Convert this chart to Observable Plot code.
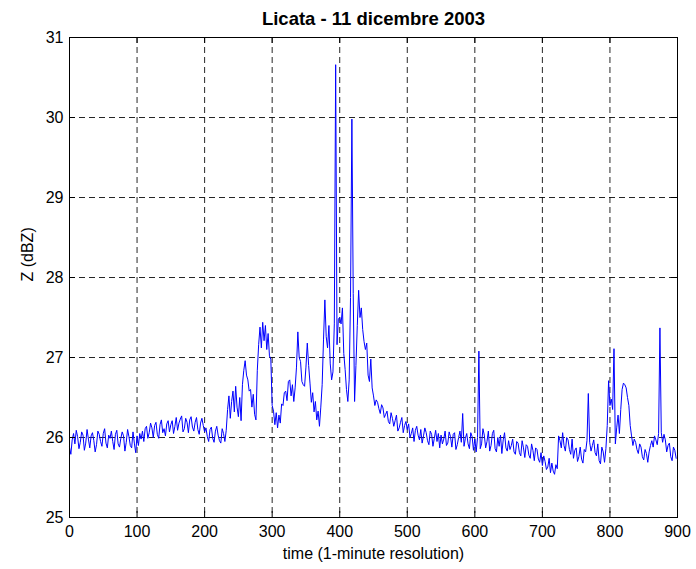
<!DOCTYPE html>
<html>
<head>
<meta charset="utf-8">
<script src="https://cdn.jsdelivr.net/npm/d3@7"></script>
<script src="https://cdn.jsdelivr.net/npm/@observablehq/plot@0.6"></script>
<style>
  html, body { margin: 0; padding: 0; background: #fff; }
</style>
</head>
<body>
<div id="chart"></div>
<script>
// Radar reflectivity over Licata, 11 December 2003, sampled every 2 minutes
const title = "Licata - 11 dicembre 2003";
const xLabel = "time (1-minute resolution)";
const yLabel = "Z (dBZ)";
const xTicks = [0, 100, 200, 300, 400, 500, 600, 700, 800, 900];
const yTicks = [25, 26, 27, 28, 29, 30, 31];
const step = 2; // minutes between consecutive values

// Z (dBZ), one value every `step` minutes starting at minute 0
const zdBZ = [
  25.88, 25.79, 25.97, 26.05, 25.92, 26.09, 26.01, 25.86, 25.94, 26.07, 26.03, 25.84, 25.93, 26.10, 25.98, 25.87, 26.02, 26.06, 25.96, 25.82, 25.91, 26.08, 26.04, 25.95, 25.89,
  26.05, 26.11, 25.93, 25.87, 26.03, 25.99, 26.08, 25.95, 25.85, 26.04, 26.09, 25.92, 25.88, 25.99, 26.07, 26.02, 25.83, 25.94, 26.10, 26.01, 25.90, 25.87, 26.07, 25.93, 25.81,
  26.02, 25.90, 26.05, 25.98, 26.08, 25.95, 26.11, 26.14, 25.99, 26.06, 26.18, 26.12, 26.00, 26.15, 26.19, 26.04, 25.99, 26.16, 26.22, 26.06, 26.11, 26.02, 26.17, 26.21, 26.07,
  26.16, 26.21, 26.05, 26.14, 26.25, 26.09, 26.18, 26.23, 26.27, 26.07, 26.11, 26.24, 26.19, 26.06, 26.22, 26.26, 26.13, 26.08, 26.19, 26.25, 26.10, 26.04, 26.18, 26.24, 26.15,
  26.07, 26.12, 26.01, 25.95, 26.10, 26.13, 25.99, 25.94, 26.08, 26.14, 26.03, 25.96, 25.93, 26.11, 26.05, 25.95, 26.09, 26.35, 26.52, 26.24, 26.45, 26.58, 26.32, 26.64, 26.38,
  26.26, 26.50, 26.21, 26.66, 26.84, 26.96, 26.78, 26.72, 26.58, 26.60, 26.38, 26.54, 26.29, 26.22, 26.84, 27.16, 27.38, 27.12, 27.44, 27.21, 27.40, 27.10, 27.30, 27.02, 26.98,
  26.40, 26.33, 26.16, 26.31, 26.12, 26.28, 26.18, 26.42, 26.40, 26.56, 26.58, 26.46, 26.70, 26.72, 26.52, 26.66, 26.45, 26.62, 26.88, 27.32, 27.00, 26.95, 26.70, 26.66, 26.64,
  26.88, 27.18, 26.90, 26.68, 26.44, 26.56, 26.32, 26.45, 26.22, 26.33, 26.14, 26.38, 26.66, 27.22, 27.72, 27.26, 27.12, 27.40, 26.92, 26.72, 26.82, 27.42, 30.66, 27.16, 27.48,
  27.50, 27.42, 27.62, 27.05, 26.85, 26.60, 26.45, 26.72, 27.75, 29.98, 27.80, 26.45, 26.90, 27.40, 27.84, 27.50, 27.62, 27.35, 27.20, 27.10, 27.18, 26.78, 26.70, 26.98, 26.62,
  26.52, 26.40, 26.47, 26.44, 26.36, 26.30, 26.41, 26.37, 26.25, 26.29, 26.33, 26.20, 26.17, 26.31, 26.24, 26.14, 26.21, 26.28, 26.08, 26.12, 26.19, 26.25, 26.06, 26.15, 26.20,
  26.10, 26.17, 26.00, 26.05, 26.12, 25.95, 26.09, 26.14, 26.03, 25.97, 26.10, 25.93, 26.02, 26.12, 26.06, 25.96, 25.91, 26.08, 26.04, 25.89, 25.99, 26.09, 25.95, 26.05, 25.87,
  26.03, 25.92, 25.98, 26.08, 25.90, 25.93, 26.07, 26.01, 25.88, 26.04, 26.06, 25.85, 25.91, 26.00, 26.08, 25.94, 26.30, 25.89, 25.99, 26.05, 25.92, 25.86, 26.06, 26.01, 25.84,
  25.98, 25.82, 26.00, 27.08, 25.86, 25.92, 26.11, 26.03, 25.87, 25.95, 26.08, 25.83, 25.90, 26.05, 26.09, 25.86, 25.82, 26.00, 25.89, 26.03, 25.80, 25.97, 26.06, 25.87, 25.83,
  25.96, 25.85, 25.90, 25.98, 25.82, 25.79, 25.95, 25.93, 25.81, 25.77, 25.96, 25.87, 25.75, 25.91, 25.89, 25.78, 25.74, 25.92, 25.84, 25.71, 25.87, 25.85, 25.73, 25.69, 25.81,
  25.65, 25.77, 25.70, 25.60, 25.63, 25.74, 25.56, 25.68, 25.58, 25.54, 25.66, 25.61, 26.02, 25.96, 25.87, 26.06, 25.90, 25.83, 26.00, 25.97, 25.85, 25.79, 25.98, 25.74, 25.84,
  25.87, 25.70, 25.76, 25.88, 25.73, 25.68, 25.85, 25.82, 25.96, 26.55, 25.94, 25.83, 25.90, 25.97, 25.81, 25.77, 25.92, 25.71, 25.67, 25.88, 25.82, 25.69, 25.86, 26.15, 26.71,
  26.40, 26.48, 26.35, 27.11, 25.92, 26.12, 26.28, 26.05, 26.35, 26.60, 26.68, 26.66, 26.62, 26.50, 26.40, 26.15, 26.02, 25.90, 25.98, 25.94, 25.85, 25.80, 25.92, 25.88, 25.76,
  25.72, 25.85, 25.80, 25.69, 25.82, 25.90, 25.96, 25.88, 26.02, 25.97, 25.91, 26.05, 27.37, 26.06, 25.94, 26.04, 25.97, 25.82, 25.90, 25.93, 25.76, 25.71, 25.88, 25.84, 25.74
];

const series = zdBZ.map((z, i) => ({t: i * step, z}));

const font = "'Liberation Sans', Arial, Helvetica, sans-serif";
const gridStyle = {stroke: "#000", strokeOpacity: 0.85, strokeWidth: 1, strokeDasharray: "6,4"};
const intFormat = d3.format("d");

const chart = Plot.plot({
  width: 696,
  height: 569,
  marginLeft: 69,
  marginRight: 19,
  marginTop: 37,
  marginBottom: 52,
  style: {fontFamily: font, fontSize: "16px", background: "#fff", color: "#000"},
  x: {domain: [0, 900]},
  y: {domain: [25, 31]},
  marks: [
    Plot.gridX(xTicks, gridStyle),
    Plot.gridY(yTicks, gridStyle),
    Plot.line(series, {x: "t", y: "z", stroke: "#0000ff", strokeWidth: 1}),
    Plot.frame({stroke: "#000", strokeWidth: 1}),
    // inward tick marks on all four sides
    Plot.tickX(xTicks, {x: d => d, insetTop: 474, stroke: "#000"}),
    Plot.tickX(xTicks, {x: d => d, insetBottom: 474, stroke: "#000"}),
    Plot.tickY(yTicks, {y: d => d, insetRight: 602, stroke: "#000"}),
    Plot.tickY(yTicks, {y: d => d, insetLeft: 602, stroke: "#000"}),
    Plot.axisX(xTicks, {tickSize: 0, tickPadding: 8, label: null, fontSize: 16, tickFormat: intFormat}),
    Plot.axisY(yTicks, {tickSize: 0, tickPadding: 6, label: null, fontSize: 16, tickFormat: intFormat}),
    Plot.text([title], {frameAnchor: "top", dy: -26, text: d => d, fontWeight: "bold", fontSize: 18.5}),
    Plot.text([xLabel], {frameAnchor: "bottom", dy: 41, text: d => d, fontSize: 16}),
    Plot.text([yLabel], {frameAnchor: "left", dx: -42, dy: 4, rotate: -90, text: d => d, fontSize: 16})
  ]
});

document.getElementById("chart").appendChild(chart);
</script>
</body>
</html>
